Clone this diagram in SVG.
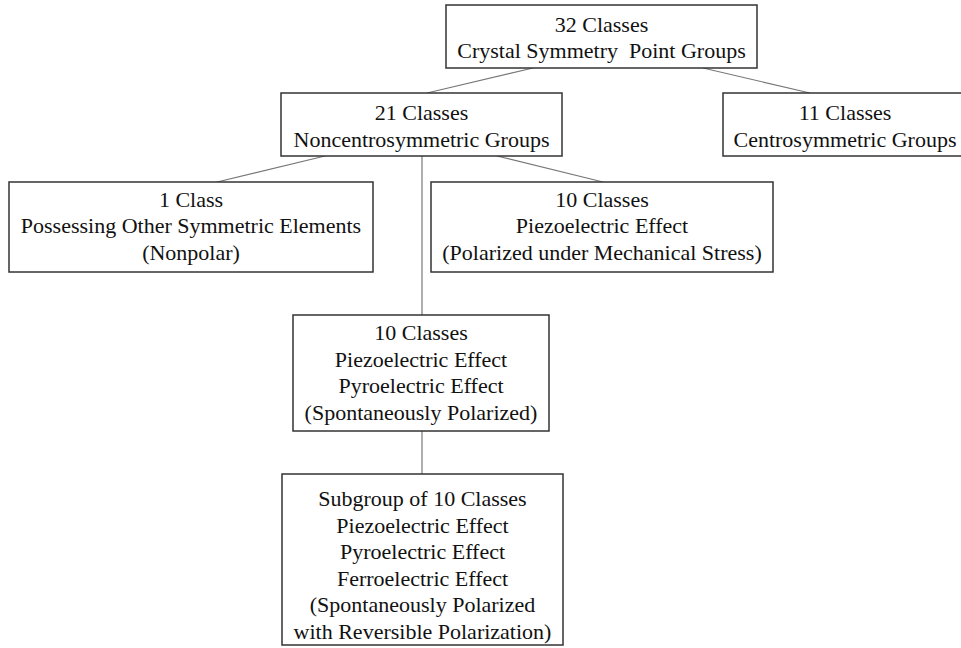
<svg xmlns="http://www.w3.org/2000/svg" width="961" height="648" viewBox="0 0 961 648">
<style>
.box{fill:#fff;stroke:#333;stroke-width:1.5}
text{font-family:'Liberation Serif','DejaVu Serif','Noto Serif',Times,serif;font-size:22px;fill:#111;text-anchor:middle}
.c{stroke:#777;stroke-width:1.2;fill:none}
</style>
<rect width="961" height="648" fill="#fff"/>
<g id="connectors">
<line class="c" x1="533" y1="68" x2="427" y2="93"/>
<line class="c" x1="703" y1="68" x2="810" y2="93"/>
<line class="c" x1="325" y1="156" x2="217" y2="182"/>
<line class="c" x1="497" y1="156" x2="603" y2="182"/>
<line class="c" x1="422" y1="156" x2="422" y2="315"/>
<line class="c" x1="422" y1="431" x2="422" y2="474"/>
</g>
<g id="n32">
<rect class="box" x="446" y="5" width="311" height="63"/>
<text x="601.5" y="31.5">32 Classes</text>
<text x="601.5" y="58" xml:space="preserve">Crystal Symmetry  Point Groups</text>
</g>
<g id="n21">
<rect class="box" x="281" y="93" width="281" height="63"/>
<text x="421.5" y="120">21 Classes</text>
<text x="421.5" y="146.5">Noncentrosymmetric Groups</text>
</g>
<g id="n11">
<rect class="box" x="723" y="93" width="250" height="63"/>
<text x="845" y="120">11 Classes</text>
<text x="845" y="146.5">Centrosymmetric Groups</text>
</g>
<g id="n1">
<rect class="box" x="9" y="182" width="364" height="90"/>
<text x="191" y="206.5">1 Class</text>
<text x="191" y="233">Possessing Other Symmetric Elements</text>
<text x="191" y="259.5">(Nonpolar)</text>
</g>
<g id="n10a">
<rect class="box" x="431" y="182" width="342" height="90"/>
<text x="602" y="206.5">10 Classes</text>
<text x="602" y="233">Piezoelectric Effect</text>
<text x="602" y="259.5">(Polarized under Mechanical Stress)</text>
</g>
<g id="n10b">
<rect class="box" x="293" y="315" width="256" height="116"/>
<text x="421" y="340">10 Classes</text>
<text x="421" y="366.6">Piezoelectric Effect</text>
<text x="421" y="393.2">Pyroelectric Effect</text>
<text x="421" y="419.8">(Spontaneously Polarized)</text>
</g>
<g id="nsub">
<rect class="box" x="282" y="474" width="281" height="171"/>
<text x="422.5" y="506">Subgroup of 10 Classes</text>
<text x="422.5" y="532.6">Piezoelectric Effect</text>
<text x="422.5" y="559.2">Pyroelectric Effect</text>
<text x="422.5" y="585.8">Ferroelectric Effect</text>
<text x="422.5" y="612.4">(Spontaneously Polarized</text>
<text x="422.5" y="639">with Reversible Polarization)</text>
</g>
</svg>
